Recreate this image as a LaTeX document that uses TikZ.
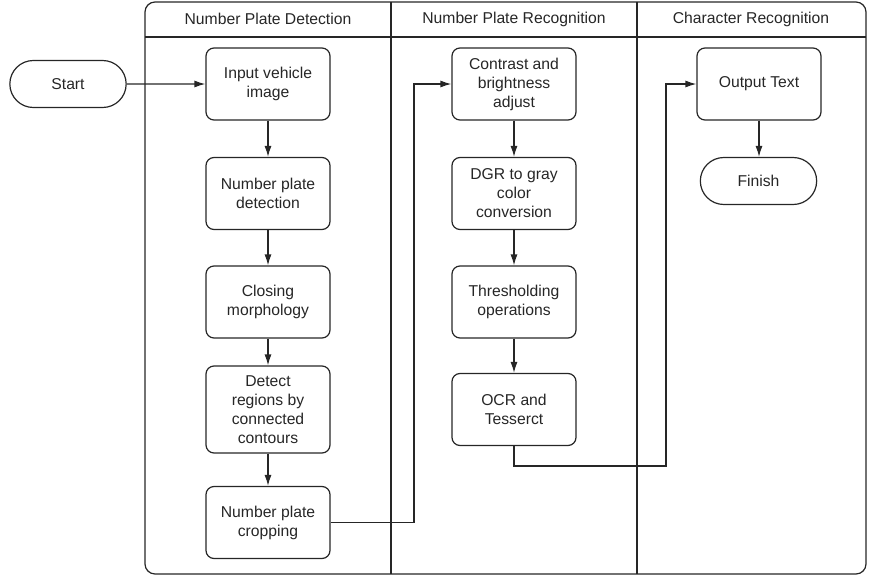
\documentclass[tikz,border=0pt]{standalone}
\usepackage{fontspec}
\setmainfont{Liberation Sans}
\usetikzlibrary{arrows.meta,shapes.misc}

\begin{document}
\begin{tikzpicture}[x=1pt, y=-1pt, line width=1.2pt, color={black!85},
        every node/.style={font=\fontsize{15.7}{19}\selectfont, align=center},
        box/.style={draw, rounded corners=8pt, minimum width=124pt, minimum height=72pt, inner sep=2pt},
        pill/.style={draw, rounded rectangle, minimum width=123pt, minimum height=47pt},
        flow/.style={-{Latex[length=11pt, width=7pt]}}]
    \useasboundingbox (0,0) rectangle (879,576);

    % swim lanes
    \draw[rounded corners=10pt] (145,2) rectangle (866,574);
    \draw (145,37) -- (866,37);
    \draw (391,2) -- (391,574);
    \draw (637,2) -- (637,574);
    \node (laneA) at (268,19) {Number Plate Detection};
    \node (laneB) at (514,19) {Number Plate Recognition};
    \node (laneC) at (751,19) {Character Recognition};

    % detection
    \node[pill] (start) at (68,84) {Start};
    \node[box] (input) at (268,84) {Input vehicle\\image};
    \node[box] (platedet) at (268,193.5) {Number plate\\detection};
    \node[box] (closing) at (268,302) {Closing\\morphology};
    \node[box, minimum height=87pt] (regions) at (268,409.5) {Detect\\regions by\\connected\\contours};
    \node[box] (crop) at (268,522.5) {Number plate\\cropping};

    % recognition
    \node[box] (contrast) at (514,84) {Contrast and\\brightness\\adjust};
    \node[box] (gray) at (514,193.5) {DGR to gray\\color\\conversion};
    \node[box] (thresh) at (514,302) {Thresholding\\operations};
    \node[box] (ocr) at (514,409.5) {OCR and\\Tesserct};

    % characters
    \node[box] (output) at (759,84) {Output Text};
    \node[pill] (finish) at (758.5,181) {Finish};

    \coordinate (jogA) at (414,522.5);
    \coordinate (jogB) at (666,466);

    \draw[flow] (start) -- (input);
    \draw[flow] (input) -- (platedet);
    \draw[flow] (platedet) -- (closing);
    \draw[flow] (closing) -- (regions);
    \draw[flow] (regions) -- (crop);
    \draw[flow] (crop.east) -- (jogA) |- (contrast.west);
    \draw[flow] (contrast) -- (gray);
    \draw[flow] (gray) -- (thresh);
    \draw[flow] (thresh) -- (ocr);
    \draw[flow] (ocr.south) |- (jogB) |- (output.west);
    \draw[flow] (output) -- (output |- finish.north);
\end{tikzpicture}
\end{document}
